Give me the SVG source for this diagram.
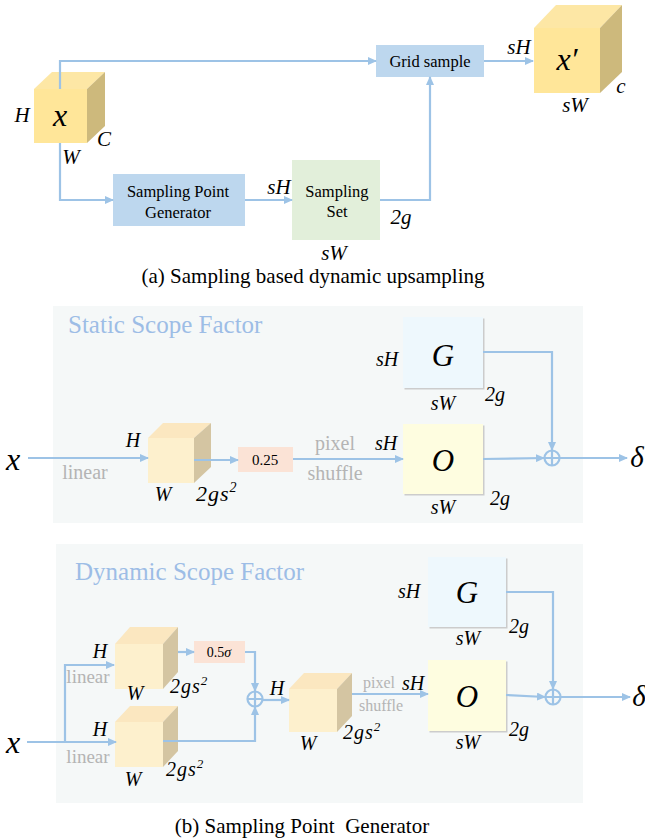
<svg xmlns="http://www.w3.org/2000/svg" width="645" height="839" viewBox="0 0 645 839">
<defs>
<marker id="ah" markerUnits="userSpaceOnUse" markerWidth="9" markerHeight="8" refX="8" refY="4" orient="auto">
<path d="M0,0 L9,4 L0,8 Z" fill="#9dc3e6"/>
</marker>
<style>
.ln{fill:none;stroke:#9dc3e6;stroke-width:2.2}
.ar{fill:none;stroke:#9dc3e6;stroke-width:2.2;marker-end:url(#ah)}
.t{font-family:"Liberation Serif","Times New Roman",serif;fill:#000}
.m{font-family:"Liberation Serif","Times New Roman",serif;font-style:italic;fill:#000}
.g{font-family:"Liberation Serif","Times New Roman",serif;fill:#b4b4b4}
.ttl{font-family:"Liberation Serif","Times New Roman",serif;fill:#9dbde6;font-size:25px}
.panel{fill:#f5f8f8}
.shadow{fill:#cccccc}
.cf{fill:#fdf0cd}.ct{fill:#fbe7c0}.cs{fill:#d4c5a2}
.yf{fill:#ffe699}.yt{fill:#fde7a5}.ys{fill:#cdb97c}
</style>
</defs>
<rect width="645" height="839" fill="#fff"/>

<!-- Part (a) -->
<g id="node-x">
<polygon class="yt" points="34,89 52,72 105,72 87,89"/>
<polygon class="ys" points="87,89 105,72 105,126 87,143"/>
<rect class="yf" x="34" y="89" width="53" height="54"/>
<text class="m" x="60" y="126" font-size="32" text-anchor="middle">x</text>
<text class="m" x="22" y="122" font-size="21" text-anchor="middle">H</text>
<text class="m" x="104" y="146" font-size="21" text-anchor="middle">C</text>
<text class="m" x="71" y="164" font-size="21" text-anchor="middle">W</text>
</g>
<g id="node-grid">
<rect x="376" y="45" width="108" height="32" fill="#bdd7ee"/>
<text class="t" x="430" y="67" font-size="16.5" text-anchor="middle">Grid sample</text>
</g>
<g id="node-xp">
<polygon class="yt" points="534,28 556,5 622,5 600,28"/>
<polygon class="ys" points="600,28 622,5 622,72 600,93"/>
<rect class="yf" x="534" y="28" width="66" height="65"/>
<text class="m" x="567" y="70" font-size="32" text-anchor="middle">x′</text>
<text class="m" x="519" y="54" font-size="21" text-anchor="middle">sH</text>
<text class="m" x="621" y="93" font-size="21" text-anchor="middle">c</text>
<text class="m" x="575" y="112" font-size="21" text-anchor="middle">sW</text>
</g>
<g id="node-spg">
<rect x="113" y="174" width="132" height="52" fill="#bdd7ee"/>
<text class="t" x="178" y="197" font-size="16.5" text-anchor="middle">Sampling Point</text>
<text class="t" x="178" y="218" font-size="16.5" text-anchor="middle">Generator</text>
<text class="m" x="279" y="194" font-size="21" text-anchor="middle">sH</text>
</g>
<g id="node-set">
<rect x="292" y="160" width="88" height="80" fill="#e2efda"/>
<text class="t" x="337" y="197" font-size="16.5" text-anchor="middle">Sampling</text>
<text class="t" x="337" y="217" font-size="16.5" text-anchor="middle">Set</text>
<text class="m" x="401" y="224" font-size="21" text-anchor="middle">2g</text>
<text class="m" x="334" y="260" font-size="21" text-anchor="middle">sW</text>
</g>
<g id="connectors-a">
<polyline class="ar" points="60,89 60,61 376,61"/>
<polyline class="ar" points="60,143 60,200 113,200"/>
<line class="ar" x1="245" y1="200" x2="292" y2="200"/>
<polyline class="ar" points="380,200 430,200 430,77"/>
<line class="ar" x1="484" y1="61" x2="533" y2="61"/>
</g>
<text class="t" x="313" y="283" font-size="21" text-anchor="middle">(a) Sampling based dynamic upsampling</text>

<!-- Part (b) static -->
<rect class="panel" x="53" y="306" width="530" height="217"/>
<text class="ttl" x="68" y="333">Static Scope Factor</text>
<g id="s-x">
<text class="m" x="13" y="470" font-size="32" text-anchor="middle">x</text>
<text class="g" x="85" y="479" font-size="20" text-anchor="middle">linear</text>
</g>
<g id="s-cube">
<polygon class="ct" points="148,438 163,423 211,423 194,438"/>
<polygon class="cs" points="194,438 211,423 211,467 194,483"/>
<rect class="cf" x="148" y="438" width="46" height="45"/>
<text class="m" x="133" y="447" font-size="20" text-anchor="middle">H</text>
<text class="m" x="163" y="501" font-size="20" text-anchor="middle">W</text>
<text class="m" x="196" y="501" font-size="22" letter-spacing="1">2gs<tspan font-size="14" dy="-9">2</tspan></text>
</g>
<g id="s-scale">
<rect x="238" y="447" width="55" height="25" fill="#fbe3d6"/>
<text class="t" x="265" y="465" font-size="15" text-anchor="middle">0.25</text>
<text class="g" x="335" y="450" font-size="20" text-anchor="middle">pixel</text>
<text class="g" x="335" y="480" font-size="20" text-anchor="middle">shuffle</text>
</g>
<g id="s-G">
<rect class="shadow" x="404.5" y="318.5" width="80" height="71"/>
<rect x="403" y="317" width="80" height="71" fill="#eef8fd"/>
<text class="m" x="443" y="366" font-size="31" text-anchor="middle">G</text>
<text class="m" x="387" y="366" font-size="20" text-anchor="middle">sH</text>
<text class="m" x="443" y="410" font-size="20" text-anchor="middle">sW</text>
<text class="m" x="495" y="401" font-size="20" text-anchor="middle">2g</text>
</g>
<g id="s-O">
<rect class="shadow" x="404.5" y="425.5" width="80" height="70"/>
<rect x="403" y="424" width="80" height="70" fill="#fefde0"/>
<text class="m" x="443" y="471" font-size="31" text-anchor="middle">O</text>
<text class="m" x="386" y="450" font-size="20" text-anchor="middle">sH</text>
<text class="m" x="443" y="514" font-size="20" text-anchor="middle">sW</text>
<text class="m" x="500" y="505" font-size="20" text-anchor="middle">2g</text>
</g>
<g id="s-sum">
<circle cx="552" cy="458" r="7.5" fill="none" stroke="#9dc3e6" stroke-width="2.2"/>
<path d="M544.5,458 H559.5 M552,450.5 V465.5" stroke="#9dc3e6" stroke-width="2.2"/>
<text class="m" x="637" y="467" font-size="29" text-anchor="middle">δ</text>
</g>
<g id="connectors-static">
<line class="ar" x1="28" y1="458" x2="148" y2="458"/>
<line class="ar" x1="194" y1="460" x2="238" y2="460"/>
<line class="ar" x1="293" y1="459" x2="403" y2="459"/>
<polyline class="ar" points="483,352 552,352 552,450"/>
<line class="ar" x1="483" y1="459" x2="544" y2="458"/>
<line class="ar" x1="560" y1="458" x2="627" y2="458"/>
</g>

<!-- Part (b) dynamic -->
<rect class="panel" x="56" y="544" width="527" height="259"/>
<text class="ttl" x="75" y="580">Dynamic Scope Factor</text>
<g id="d-x">
<text class="m" x="13" y="753" font-size="32" text-anchor="middle">x</text>
</g>
<g id="d-cube1">
<polygon class="ct" points="115,644 130,627 178,627 163,644"/>
<polygon class="cs" points="163,644 178,627 178,672 163,689"/>
<rect class="cf" x="115" y="644" width="48" height="45"/>
<text class="m" x="100" y="658" font-size="20" text-anchor="middle">H</text>
<text class="g" x="88" y="683" font-size="19" text-anchor="middle">linear</text>
<text class="m" x="135" y="700" font-size="20" text-anchor="middle">W</text>
<text class="m" x="170" y="693" font-size="20" letter-spacing="1">2gs<tspan font-size="13" dy="-8">2</tspan></text>
</g>
<g id="d-cube2">
<polygon class="ct" points="115,722 130,706 178,706 163,722"/>
<polygon class="cs" points="163,722 178,706 178,751 163,767"/>
<rect class="cf" x="115" y="722" width="48" height="45"/>
<text class="m" x="100" y="736" font-size="20" text-anchor="middle">H</text>
<text class="g" x="88" y="763" font-size="19" text-anchor="middle">linear</text>
<text class="m" x="133" y="786" font-size="20" text-anchor="middle">W</text>
<text class="m" x="166" y="776" font-size="20" letter-spacing="1">2gs<tspan font-size="13" dy="-8">2</tspan></text>
</g>
<g id="d-scale">
<rect x="194" y="641" width="51" height="22" fill="#fbe3d6"/>
<text class="t" x="219" y="657" font-size="14" text-anchor="middle">0.5<tspan font-style="italic">σ</tspan></text>
</g>
<g id="d-sum1">
<circle cx="255" cy="699" r="7.5" fill="none" stroke="#9dc3e6" stroke-width="2.2"/>
<path d="M247.5,699 H262.5 M255,691.5 V706.5" stroke="#9dc3e6" stroke-width="2.2"/>
</g>
<g id="d-cube3">
<polygon class="ct" points="289,689 304,673 352,673 337,689"/>
<polygon class="cs" points="337,689 352,673 352,716 337,732"/>
<rect class="cf" x="289" y="689" width="48" height="43"/>
<text class="m" x="277" y="695" font-size="20" text-anchor="middle">H</text>
<text class="m" x="308" y="750" font-size="20" text-anchor="middle">W</text>
<text class="m" x="343" y="739" font-size="20" letter-spacing="1">2gs<tspan font-size="13" dy="-8">2</tspan></text>
<text class="g" x="379" y="688" font-size="16" text-anchor="middle">pixel</text>
<text class="g" x="381" y="711" font-size="16" text-anchor="middle">shuffle</text>
</g>
<g id="d-G">
<rect class="shadow" x="429.5" y="558.5" width="78" height="70"/>
<rect x="428" y="557" width="78" height="70" fill="#eef8fd"/>
<text class="m" x="467" y="603" font-size="31" text-anchor="middle">G</text>
<text class="m" x="409" y="598" font-size="20" text-anchor="middle">sH</text>
<text class="m" x="468" y="645" font-size="20" text-anchor="middle">sW</text>
<text class="m" x="519" y="633" font-size="20" text-anchor="middle">2g</text>
</g>
<g id="d-O">
<rect class="shadow" x="429.5" y="661.5" width="78" height="71"/>
<rect x="428" y="660" width="78" height="71" fill="#fefde0"/>
<text class="m" x="467" y="707" font-size="31" text-anchor="middle">O</text>
<text class="m" x="413" y="690" font-size="20" text-anchor="middle">sH</text>
<text class="m" x="468" y="749" font-size="20" text-anchor="middle">sW</text>
<text class="m" x="519" y="736" font-size="20" text-anchor="middle">2g</text>
</g>
<g id="d-sum2">
<circle cx="553" cy="697" r="7.5" fill="none" stroke="#9dc3e6" stroke-width="2.2"/>
<path d="M545.5,697 H560.5 M553,689.5 V704.5" stroke="#9dc3e6" stroke-width="2.2"/>
<text class="m" x="639" y="706" font-size="29" text-anchor="middle">δ</text>
</g>
<g id="connectors-dynamic">
<line class="ar" x1="27" y1="742" x2="116" y2="742"/>
<polyline class="ar" points="65,742 65,665 114,665"/>
<line class="ar" x1="178" y1="652" x2="194" y2="652"/>
<polyline class="ar" points="245,652 255,652 255,691"/>
<polyline class="ar" points="163,741 255,741 255,707"/>
<line class="ar" x1="263" y1="700" x2="289" y2="700"/>
<line class="ar" x1="352" y1="694" x2="428" y2="694"/>
<polyline class="ar" points="506,592 553,592 553,689"/>
<line class="ar" x1="506" y1="695" x2="545" y2="697"/>
<line class="ar" x1="561" y1="697" x2="630" y2="697"/>
</g>
<text class="t" x="302" y="833" font-size="21" text-anchor="middle" xml:space="preserve">(b) Sampling Point  Generator</text>
</svg>
